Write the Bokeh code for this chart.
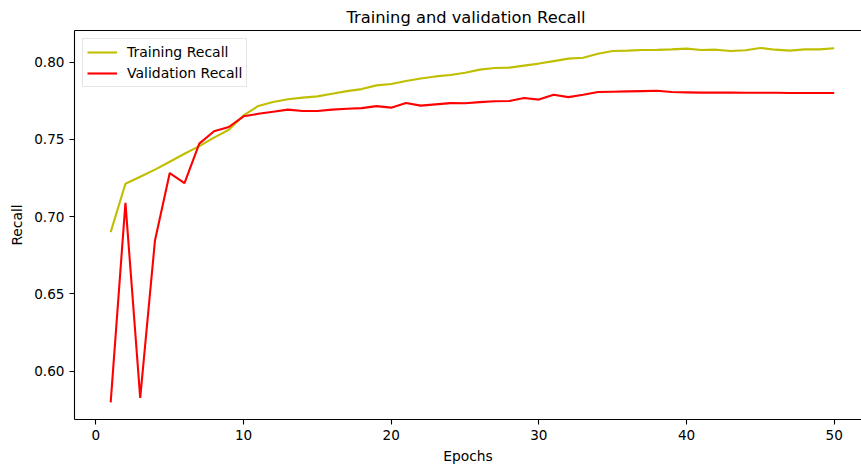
from bokeh.plotting import figure
from bokeh.models import Range1d, FixedTicker, LinearAxis, NumeralTickFormatter, Legend
from bokeh.embed import file_html
from bokeh.resources import INLINE

# Recall per epoch
epochs = list(range(1, 51))
train_recall = [
    0.690, 0.7213, 0.7258, 0.7304, 0.7355, 0.7407, 0.7456, 0.7511, 0.7562, 0.7655,
    0.7716, 0.7741, 0.7759, 0.7770, 0.7778, 0.7795, 0.7812, 0.7825, 0.7849, 0.7858,
    0.7877, 0.7893, 0.7907, 0.7916, 0.7931, 0.7951, 0.7961, 0.7964, 0.7977, 0.7990,
    0.8006, 0.8022, 0.8028, 0.8054, 0.8071, 0.8074, 0.8078, 0.8079, 0.8082, 0.8087,
    0.8078, 0.8080, 0.8071, 0.8076, 0.8091, 0.8080, 0.8074, 0.8082, 0.8082, 0.8089,
]
val_recall = [
    0.5799, 0.7090, 0.5828, 0.6846, 0.7282, 0.7217, 0.7472, 0.7552, 0.7580, 0.7649,
    0.7665, 0.7679, 0.7692, 0.7683, 0.7683, 0.7692, 0.7698, 0.7702, 0.7715, 0.7705,
    0.7735, 0.7718, 0.7726, 0.7734, 0.7733, 0.7741, 0.7746, 0.7748, 0.7767, 0.7757,
    0.7789, 0.7773, 0.7789, 0.7806, 0.7808, 0.7810, 0.7812, 0.7814, 0.7806, 0.7804,
    0.7802, 0.7802, 0.7802, 0.7801, 0.7801, 0.7801, 0.7800, 0.7800, 0.7800, 0.7800,
]
x_ticks = [0, 10, 20, 30, 40, 50]
y_ticks = [0.60, 0.65, 0.70, 0.75, 0.80]

FONT = "DejaVu Sans"

p = figure(
    width=861, height=468,
    output_backend="svg", toolbar_location=None,
    x_range=Range1d(-1.45, 51.85), y_range=Range1d(0.5688, 0.8204),
    min_border_left=74, min_border_right=0, min_border_top=30, min_border_bottom=49,
    title="Training and validation Recall",
)
p.outline_line_color = None
p.grid.visible = False
p.background_fill_color = "white"
p.border_fill_color = "white"

p.title.text_font = FONT
p.title.text_font_size = "16.3px"
p.title.text_font_style = "normal"
p.title.text_color = "black"
p.title.align = "left"
p.title.offset = 272
p.title.standoff = 8

for ax in (p.xaxis[0], p.yaxis[0]):
    ax.axis_line_color = "black"
    ax.axis_line_width = 1.1
    ax.major_tick_line_color = "black"
    ax.major_tick_line_width = 1.1
    ax.major_tick_out = 5
    ax.major_tick_in = 0
    ax.minor_tick_line_color = None
    ax.major_label_text_font = FONT
    ax.major_label_text_font_size = "13.6px"
    ax.major_label_text_color = "black"
    ax.major_label_standoff = 5
    ax.axis_label_text_font = FONT
    ax.axis_label_text_font_size = "13.8px"
    ax.axis_label_text_font_style = "normal"
    ax.axis_label_text_color = "black"

p.xaxis[0].ticker = FixedTicker(ticks=x_ticks)
p.xaxis[0].axis_label = "Epochs"
p.xaxis[0].axis_label_standoff = 5
p.yaxis[0].ticker = FixedTicker(ticks=y_ticks)
p.yaxis[0].formatter = NumeralTickFormatter(format="0.00")
p.yaxis[0].axis_label = "Recall"
p.yaxis[0].axis_label_standoff = 6

# top spine
top = LinearAxis(ticker=FixedTicker(ticks=[]), axis_line_color="black", axis_line_width=1.1,
                 major_tick_line_color=None, minor_tick_line_color=None,
                 major_label_text_font_size="0px")
p.add_layout(top, "above")

r_train = p.line(epochs, train_recall, line_color="#bfbf00", line_width=2.1)
r_val = p.line(epochs, val_recall, line_color="#ff0000", line_width=2.1)

legend = Legend(items=[("Training Recall", [r_train]), ("Validation Recall", [r_val])],
                location="top_left")
legend.margin = 8
legend.padding = 4
legend.spacing = 3
legend.glyph_width = 30
legend.glyph_height = 18
legend.label_height = 18
legend.label_standoff = 10
legend.label_text_font = FONT
legend.label_text_font_size = "14px"
legend.label_text_color = "black"
legend.border_line_color = "#cccccc"
legend.border_line_width = 1
legend.background_fill_alpha = 0.8
p.add_layout(legend)

open("out.html", "w").write(file_html(p, INLINE))
